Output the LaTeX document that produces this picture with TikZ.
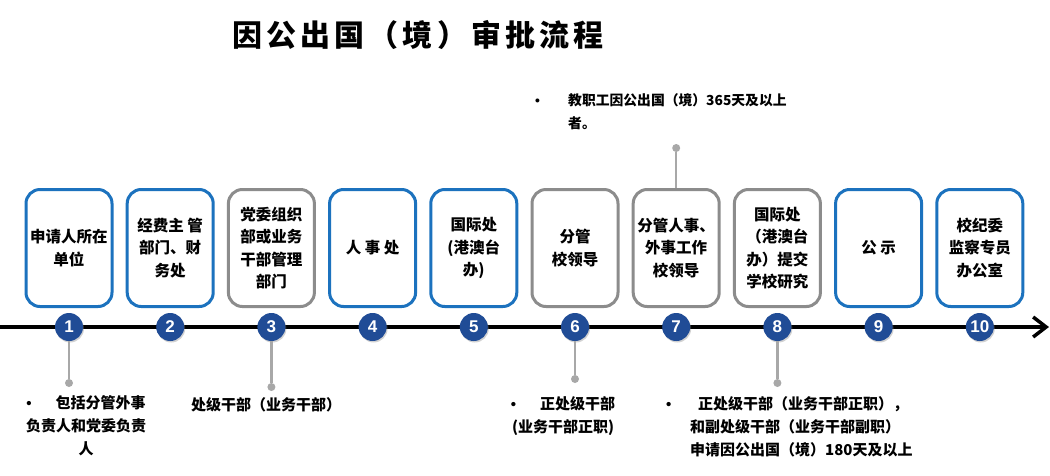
\documentclass[tikz,border=0pt]{standalone}
\usepackage{fontspec}
\setmainfont{Noto Sans CJK SC}
\newfontfamily\numfont{Liberation Sans}
\usetikzlibrary{arrows.meta,shadows}
\definecolor{boxblue}{RGB}{28,114,190}
\definecolor{boxgray}{RGB}{140,140,140}
\definecolor{navy}{RGB}{32,76,150}
\definecolor{conngray}{RGB}{168,168,168}
\begin{document}
\begin{tikzpicture}[x=1pt,y=-1pt,
  stepbox/.style={draw, rounded corners=14pt, line width=3pt, fill=white,
    minimum width=86pt, minimum height=117pt, align=center, inner sep=2pt,
    font=\bfseries\fontsize{15.5}{22.5}\selectfont},
  bluebox/.style={stepbox, draw=boxblue},
  graybox/.style={stepbox, draw=boxgray},
  numdot/.style={circle, fill=navy, minimum size=28pt, inner sep=0pt, text=white,
    font=\numfont\bfseries\fontsize{17}{17}\selectfont,
    drop shadow={opacity=0.35, shadow xshift=1pt, shadow yshift=-1.5pt}},
  enddot/.style={circle, fill=conngray, minimum size=8pt, inner sep=0pt},
  conn/.style={draw=conngray, line width=2.5pt},
  note/.style={font=\bfseries\fontsize{15}{23}\selectfont, inner sep=0pt},
  timeline/.style={draw=black, line width=3.5pt, -{Straight Barb[length=13pt,width=20pt]}},
]
\fill[white] (0,0) rectangle (1050,475);
\useasboundingbox (0,0) rectangle (1050,475);

% title
\node[font=\bfseries\fontsize{30}{30}\selectfont\addfontfeature{LetterSpace=14}] (title) at (418,35) {因公出国（境）审批流程};

% timeline
\coordinate (tlstart) at (0,327);
\coordinate (tlend) at (1049,327);
\draw[timeline] (tlstart) -- (tlend);

% boxes
\node[bluebox] (b1) at (69,248) {申请人所在\\单位};
\node[bluebox] (b2) at (170.2,248) {经费主 管\\部门、财\\务处};
\node[graybox] (b3) at (271.4,248) {党委组织\\部或业务\\干部管理\\部门};
\node[bluebox] (b4) at (372.6,248) {人 事 处};
\node[bluebox] (b5) at (473.8,248) {国际处\\(港澳台\\办)};
\node[graybox] (b6) at (575,248) {分管\\校领导};
\node[graybox] (b7) at (676.2,248) {分管人事、\\外事工作\\校领导};
\node[graybox] (b8) at (777.4,248) {国际处\\（港澳台\\办）提交\\学校研究};
\node[bluebox] (b9) at (878.6,248) {公 示};
\node[bluebox] (b10) at (979.8,248) {校纪委\\监察专员\\办公室};

% numbered circles
\foreach \i/\x in {1/69,2/170.2,3/271.4,4/372.6,5/473.8,6/575,7/676.2,8/777.4,9/878.6,10/979.8}
  \node[numdot] (c\i) at (\x,327) {\i};

% end dots
\node[enddot] (d1) at (69,383) {};
\node[enddot] (d3) at (271.4,387) {};
\node[enddot] (d6) at (575,379) {};
\node[enddot] (d8) at (777.4,383) {};
\node[enddot] (d7) at (676.2,148) {};

% connectors
\draw[conn] (c1) -- (d1);
\draw[conn] (c3) -- (d3);
\draw[conn] (c6) -- (d6);
\draw[conn] (c8) -- (d8);
\draw[conn] (b7) -- (d7);

% notes
\node[note, align=center] (n1) at (86,426) {{\numfont •}\hspace{24pt}包括分管外事\\负责人和党委负责\\人};
\node[note] (n3) at (266,405) {处级干部（业务干部）};
\node[note, align=center] (n6) at (563,416) {{\numfont •}\hspace{24pt}正处级干部\\(业务干部正职)};
\node[note, align=left, anchor=west] (n8) at (666,427) {\makebox[32pt][l]{\numfont •}正处级干部（业务干部正职），\\\hspace{24pt}和副处级干部（业务干部副职）\\\hspace{24pt}申请因公出国（境）180天及以上};
\node[note, align=left, anchor=west, font=\bfseries\fontsize{13.8}{23}\selectfont] (n7) at (535,111.5) {\makebox[33pt][l]{\numfont •}教职工因公出国（境）365天及以上\\\hspace{33pt}者。};
\end{tikzpicture}
\end{document}
